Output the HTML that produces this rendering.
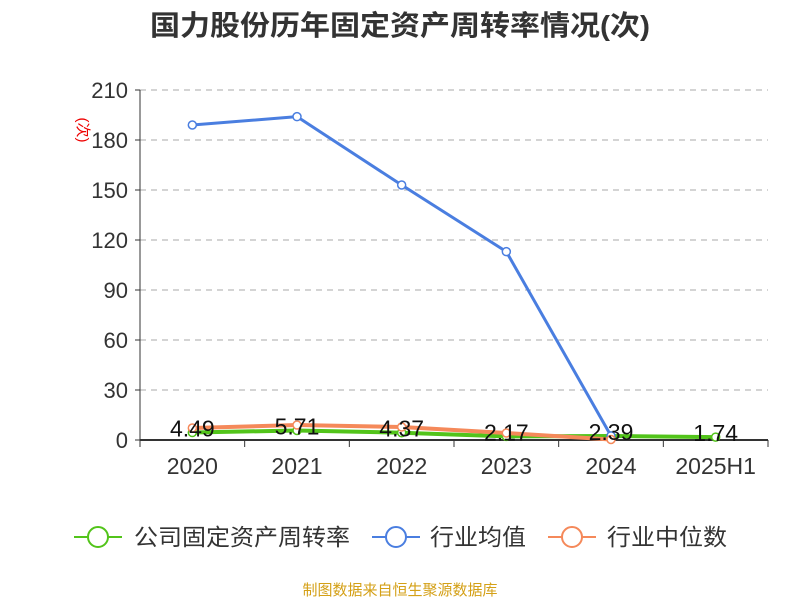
<!DOCTYPE html>
<html><head><meta charset="utf-8"><style>
body{margin:0;background:#fff;font-family:"Liberation Sans","Noto Sans CJK SC",sans-serif}
</style></head><body>
<svg id="c" width="800" height="600" xmlns="http://www.w3.org/2000/svg" font-family="Liberation Sans, Noto Sans CJK SC, sans-serif">
<text x="400" y="35" text-anchor="middle" font-size="28" font-weight="bold" fill="#333" textLength="500" lengthAdjust="spacingAndGlyphs">国力股份历年固定资产周转率情况(次)</text>
<text x="78" y="130" font-size="15" fill="#e00" transform="rotate(90 78 130)" text-anchor="middle">(次)</text>
<g id="grid"></g><g id="axes"></g><g id="series"></g>
<g font-size="23" fill="#333">
<g><line x1="74" y1="537" x2="122" y2="537" stroke="#52c41a" stroke-width="2"/><circle cx="98" cy="537" r="10" fill="#fff" stroke="#52c41a" stroke-width="2"/><text x="134" y="545" textLength="216" lengthAdjust="spacingAndGlyphs">公司固定资产周转率</text></g>
<g><line x1="372" y1="537" x2="420" y2="537" stroke="#4a7ee0" stroke-width="2"/><circle cx="396" cy="537" r="10" fill="#fff" stroke="#4a7ee0" stroke-width="2"/><text x="430" y="545" textLength="96" lengthAdjust="spacingAndGlyphs">行业均值</text></g>
<g><line x1="548" y1="537" x2="596" y2="537" stroke="#f5895a" stroke-width="2"/><circle cx="572" cy="537" r="10" fill="#fff" stroke="#f5895a" stroke-width="2"/><text x="607" y="545" textLength="120" lengthAdjust="spacingAndGlyphs">行业中位数</text></g>
</g>
<text x="400" y="595" text-anchor="middle" font-size="15" fill="#d4a017">制图数据来自恒生聚源数据库</text>
</svg>
<script>
const categories=["2020","2021","2022","2023","2024","2025H1"];
const turnover=[4.49,5.71,4.37,2.17,2.39,1.74];
const industryMean=[189,194,153,113,2.5,null];
const industryMedian=[7.2,9,7.8,4.2,0.3,null];
const yTicks=[0,30,60,90,120,150,180,210];
const NS="http://www.w3.org/2000/svg";
const x0=140,x1=768,yTop=90,yBot=440,yMax=210;
const bw=(x1-x0)/categories.length;
const xs=i=>x0+bw*(i+0.5);
const ys=v=>yBot-(v/yMax)*(yBot-yTop);
function mk(tag,attrs,parent,txt){const e=document.createElementNS(NS,tag);for(const k in attrs)e.setAttribute(k,attrs[k]);if(txt!=null)e.textContent=txt;parent.appendChild(e);return e;}
const grid=document.getElementById('grid'),axes=document.getElementById('axes'),ser=document.getElementById('series');
yTicks.forEach(t=>{
 if(t>0){const l=mk('line',{x1:x0,x2:x1,y1:ys(t),y2:ys(t),stroke:'#bbb','stroke-dasharray':'6,5','stroke-width':1.3},grid);
 }
 const tl=mk('line',{x1:x0-5,x2:x0,y1:ys(t),y2:ys(t),stroke:'#333'},axes);
 
 const tx=mk('text',{x:x0-12,y:ys(t)+8,'text-anchor':'end','font-size':'22',fill:'#333'},axes,t);
 
});
const ya=mk('line',{x1:x0,x2:x0,y1:yTop,y2:yBot,stroke:'#333'},axes);

const xa=mk('line',{x1:x0,x2:x1,y1:yBot,y2:yBot,stroke:'#333','stroke-width':2},axes);

for(let i=0;i<=categories.length;i++){const t=mk('line',{x1:x0+bw*i,x2:x0+bw*i,y1:yBot,y2:yBot+7,stroke:'#333'},axes);
 }
categories.forEach((c,i)=>{const t=mk('text',{x:xs(i),y:474,'text-anchor':'middle','font-size':'23',fill:'#333'},axes,c);
 });
function series(vals,color,w,name){
 const pts=vals.map((v,i)=>v==null?null:[xs(i),ys(v)]).filter(p=>p);
 const p=mk('polyline',{points:pts.map(p=>p.join(',')).join(' '),fill:'none',stroke:color,'stroke-width':w,'stroke-linejoin':'round'},ser);
 
 pts.forEach(q=>{const c=mk('circle',{cx:q[0],cy:q[1],r:4,fill:'#fff',stroke:color,'stroke-width':1.5},ser);
 });
}
series(turnover,'#52c41a',4,'turnover');
series(industryMean,'#4a7ee0',3,'industry-mean');
series(industryMedian,'#f5895a',4,'industry-median');
turnover.forEach((v,i)=>{const t=mk('text',{x:xs(i),y:ys(v)+4,'text-anchor':'middle','font-size':'23',fill:'#111'},ser,v.toFixed(2));
 });
</script>
</body></html>
